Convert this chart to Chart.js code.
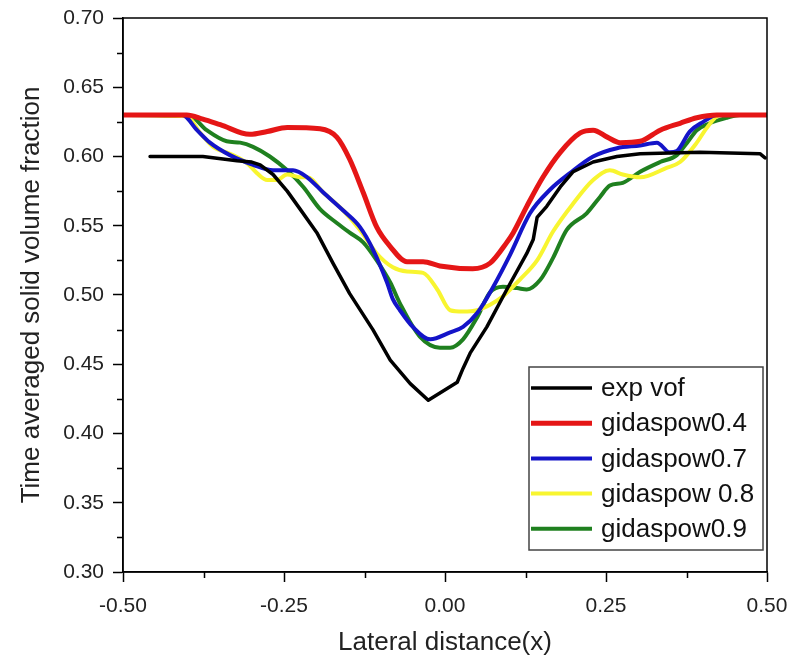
<!DOCTYPE html>
<html>
<head>
<meta charset="utf-8">
<script src="https://cdn.jsdelivr.net/npm/chart.js@4"></script>
<style>
  html, body { margin: 0; padding: 0; background: #fff; }
  #wrap { width: 791px; height: 660px; }
</style>
</head>
<body>
<div id="wrap"><canvas id="profileChart" width="791" height="660"></canvas></div>
<script>
// lateral profiles of time averaged solid volume fraction
const seriesNames = ["exp vof", "gidaspow0.4", "gidaspow0.7", "gidaspow 0.8", "gidaspow0.9"];

const expX = [-0.458, -0.376, -0.323, -0.300, -0.287, -0.267, -0.245, -0.225, -0.199, -0.174, -0.148,
  -0.112, -0.085, -0.054, -0.026, 0.019, 0.028, 0.039, 0.065, 0.096, 0.127,
  0.137, 0.143, 0.158, 0.179, 0.199, 0.230, 0.267, 0.303, 0.396, 0.489, 0.497];
const expY = [0.600, 0.600, 0.597, 0.596, 0.594, 0.587, 0.575, 0.562, 0.545, 0.523, 0.501,
  0.475, 0.453, 0.436, 0.424, 0.437, 0.447, 0.458, 0.477, 0.504, 0.530,
  0.540, 0.556, 0.564, 0.578, 0.589, 0.596, 0.600, 0.602, 0.603, 0.602, 0.599];

const g04X = [-0.5, -0.401, -0.376, -0.349, -0.303, -0.276, -0.245, -0.194, -0.168, -0.148,
  -0.127, -0.106, -0.085, -0.059, -0.034, -0.008, 0.043, 0.070, 0.096, 0.106,
  0.127, 0.152, 0.179, 0.210, 0.230, 0.252, 0.272, 0.303, 0.334, 0.365,
  0.391, 0.422, 0.5];
const g04Y = [0.630, 0.630, 0.627, 0.623, 0.616, 0.618, 0.621, 0.620, 0.614, 0.598,
  0.574, 0.549, 0.535, 0.524, 0.524, 0.521, 0.519, 0.523, 0.538, 0.545,
  0.564, 0.585, 0.603, 0.617, 0.619, 0.614, 0.610, 0.611, 0.619, 0.624,
  0.628, 0.630, 0.630];

const g07X = [-0.5, -0.408, -0.385, -0.365, -0.334, -0.298, -0.267, -0.236, -0.214, -0.189,
  -0.158, -0.132, -0.112, -0.090, -0.081, -0.070, -0.050, -0.023, 0.008, 0.028,
  0.050, 0.075, 0.101, 0.132, 0.163, 0.194, 0.230, 0.267, 0.303, 0.329,
  0.349, 0.360, 0.380, 0.401, 0.422, 0.5];
const g07Y = [0.630, 0.630, 0.619, 0.610, 0.601, 0.594, 0.590, 0.590, 0.585, 0.574,
  0.561, 0.549, 0.533, 0.509, 0.497, 0.489, 0.477, 0.468, 0.473, 0.477,
  0.487, 0.506, 0.529, 0.559, 0.576, 0.588, 0.600, 0.606, 0.608, 0.610,
  0.603, 0.604, 0.618, 0.625, 0.630, 0.630];

const g08X = [-0.5, -0.401, -0.380, -0.360, -0.334, -0.307, -0.292, -0.276, -0.261, -0.245,
  -0.225, -0.214, -0.189, -0.158, -0.132, -0.106, -0.081, -0.059, -0.034, -0.012,
  0.008, 0.028, 0.050, 0.070, 0.090, 0.116, 0.143, 0.168, 0.199, 0.230,
  0.256, 0.276, 0.303, 0.345, 0.365, 0.391, 0.407, 0.427, 0.5];
const g08Y = [0.630, 0.629, 0.617, 0.607, 0.602, 0.595, 0.588, 0.583, 0.583, 0.587,
  0.585, 0.585, 0.574, 0.561, 0.547, 0.530, 0.520, 0.517, 0.516, 0.504,
  0.489, 0.488, 0.489, 0.493, 0.499, 0.511, 0.525, 0.546, 0.566, 0.583,
  0.590, 0.587, 0.585, 0.592, 0.596, 0.610, 0.621, 0.630, 0.630];

const g09X = [-0.5, -0.396, -0.370, -0.339, -0.318, -0.298, -0.272, -0.245, -0.220, -0.194,
  -0.168, -0.148, -0.127, -0.106, -0.085, -0.070, -0.039, -0.008, 0.008, 0.028,
  0.050, 0.070, 0.090, 0.112, 0.127, 0.148, 0.168, 0.189, 0.220, 0.241,
  0.256, 0.276, 0.303, 0.334, 0.360, 0.376, 0.391, 0.411, 0.438, 0.458, 0.5];
const g09Y = [0.630, 0.629, 0.619, 0.611, 0.610, 0.607, 0.600, 0.590, 0.578, 0.562,
  0.552, 0.545, 0.538, 0.525, 0.509, 0.494, 0.470, 0.462, 0.462, 0.468,
  0.484, 0.502, 0.506, 0.505, 0.504, 0.511, 0.527, 0.547, 0.559, 0.571,
  0.579, 0.581, 0.589, 0.596, 0.601, 0.610, 0.619, 0.624, 0.628, 0.630, 0.630];

const xTicks = [-0.5, -0.25, 0, 0.25, 0.5];
const yTicks = [0.30, 0.35, 0.40, 0.45, 0.50, 0.55, 0.60, 0.65, 0.70];

const lineColors = ["#000000", "#e51616", "#1414c8", "#f8f530", "#1f801f"];
const lineWidths = [3.5, 5, 4, 4, 4];
const FONT = "'Liberation Sans', Arial, sans-serif";

const toPoints = (xs, ys) => xs.map((x, i) => ({ x: x, y: ys[i] }));
const allSeries = [
  toPoints(expX, expY),
  toPoints(g04X, g04Y),
  toPoints(g07X, g07Y),
  toPoints(g08X, g08Y),
  toPoints(g09X, g09Y)
];

const datasets = allSeries.map((pts, i) => ({
  label: seriesNames[i],
  data: pts,
  borderColor: lineColors[i],
  backgroundColor: lineColors[i],
  borderWidth: lineWidths[i],
  pointRadius: 0,
  tension: i === 0 ? 0 : 0.4,
  cubicInterpolationMode: i === 0 ? "default" : "monotone",
  borderJoinStyle: "round",
  borderCapStyle: "round"
}));

// frame, minor ticks and the boxed legend in the lower right
const framePlugin = {
  id: "frame",
  afterDraw(chart) {
    const { ctx, chartArea: a, scales } = chart;
    ctx.save();
    ctx.strokeStyle = "#000";
    ctx.lineWidth = 1.5;
    ctx.strokeRect(a.left, a.top, a.right - a.left, a.bottom - a.top);

    // minor ticks halfway between majors
    ctx.beginPath();
    for (let v = 0.325; v < 0.7; v += 0.05) {
      const py = Math.round(scales.y.getPixelForValue(v)) + 0.5;
      ctx.moveTo(a.left - 6, py);
      ctx.lineTo(a.left, py);
    }
    for (let v = -0.375; v < 0.5; v += 0.25) {
      const px = Math.round(scales.x.getPixelForValue(v)) + 0.5;
      ctx.moveTo(px, a.bottom);
      ctx.lineTo(px, a.bottom + 6);
    }
    ctx.stroke();

    // legend box
    const bx = 529, by = 367, bw = 234, bh = 183, rowH = 35.2;
    ctx.fillStyle = "#fff";
    ctx.fillRect(bx, by, bw, bh);
    ctx.strokeStyle = "#444";
    ctx.lineWidth = 1.5;
    ctx.strokeRect(bx, by, bw, bh);
    ctx.font = "26px " + FONT;
    ctx.textBaseline = "middle";
    chart.data.datasets.forEach((ds, i) => {
      const ry = by + 21 + i * rowH;
      ctx.strokeStyle = ds.borderColor;
      ctx.lineWidth = ds.borderWidth;
      ctx.beginPath();
      ctx.moveTo(bx + 2, ry);
      ctx.lineTo(bx + 63, ry);
      ctx.stroke();
      ctx.fillStyle = "#111";
      ctx.fillText(ds.label, bx + 72, ry + 1);
    });
    ctx.restore();
  }
};

new Chart(document.getElementById("profileChart"), {
  type: "line",
  data: { datasets: datasets },
  options: {
    responsive: false,
    devicePixelRatio: 1,
    animation: false,
    layout: { padding: { top: 18, right: 24, bottom: 0, left: 12 } },
    plugins: {
      legend: { display: false },
      tooltip: { enabled: false }
    },
    scales: {
      x: {
        type: "linear",
        min: -0.5,
        max: 0.5,
        afterBuildTicks: (scale) => { scale.ticks = xTicks.map(v => ({ value: v })); },
        afterFit: (scale) => {
          scale.height = 88;
          scale.paddingLeft = 0;
          scale.paddingRight = 0;
        },
        ticks: {
          autoSkip: false,
          maxRotation: 0,
          padding: 12,
          color: "#222",
          font: { family: FONT, size: 21 },
          callback: (v) => Number(v).toFixed(2)
        },
        grid: { drawOnChartArea: false, tickLength: 10, tickColor: "#000", tickWidth: 1.5 },
        border: { display: true, color: "#000", width: 1.5 },
        title: {
          display: true,
          text: "Lateral distance(x)",
          color: "#222",
          font: { family: FONT, size: 26 },
          padding: { top: 0, bottom: 2 }
        }
      },
      y: {
        min: 0.3,
        max: 0.7,
        afterBuildTicks: (scale) => { scale.ticks = yTicks.map(v => ({ value: v })); },
        afterFit: (scale) => {
          scale.width = 111;
          scale.paddingTop = 0;
          scale.paddingBottom = 0;
        },
        ticks: {
          autoSkip: false,
          padding: 9,
          color: "#222",
          font: { family: FONT, size: 21 },
          callback: (v) => Number(v).toFixed(2)
        },
        grid: { drawOnChartArea: false, tickLength: 10, tickColor: "#000", tickWidth: 1.5 },
        border: { display: true, color: "#000", width: 1.5 },
        title: {
          display: true,
          text: "Time averaged solid volume fraction",
          color: "#222",
          font: { family: FONT, size: 26 },
          padding: { top: 4, bottom: 4 }
        }
      }
    }
  },
  plugins: [framePlugin]
});
</script>
</body>
</html>
